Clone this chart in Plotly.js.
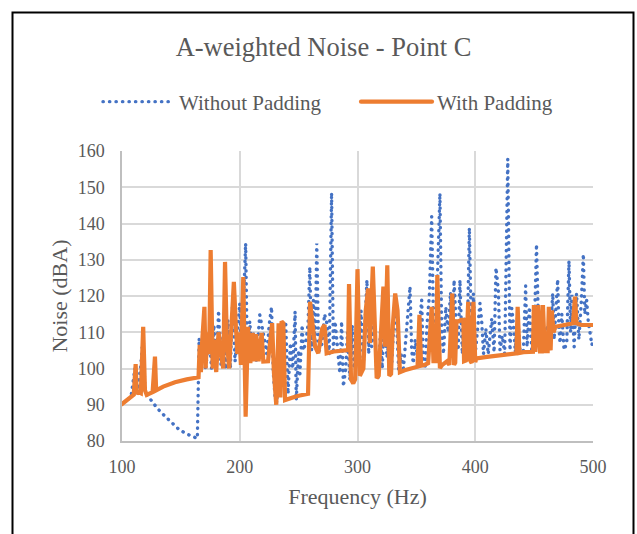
<!DOCTYPE html>
<html>
<head>
<meta charset="utf-8">
<script src="https://cdn.plot.ly/plotly-3.0.1.min.js"></script>
<style>
  html, body { margin: 0; padding: 0; background: #ffffff; }
  #chart { width: 637px; height: 534px; }
  .legendlines path.js-line { stroke-linecap: round; }
  .scatterlayer .trace path.js-line { stroke-linecap: round; }
</style>
</head>
<body>
<div id="chart"></div>
<script>
// ---- Data ----
const seriesNames = ["Without Padding", "With Padding"];

const freqWithout = [
  105, 108, 111, 113, 116, 118, 119.5, 124, 130, 136, 142, 149, 156, 162, 164,
  165.5, 167, 169, 171, 174, 176, 178, 180, 182, 184, 186, 188, 190, 192, 194,
  196, 198, 200, 201.5, 203, 205, 206.5, 208.5, 210, 212, 214, 217, 220, 223, 225,
  227, 228.5, 230, 231.5, 233, 235, 237, 239, 241, 243, 245, 247, 248, 250, 251,
  253, 254, 256, 258, 259.5, 261, 262.5, 264, 265.4, 267, 270, 272, 274, 276, 278,
  279.5, 281, 283.8, 285, 286.5, 288, 290, 291.5, 293.6, 295.5, 297, 299, 301, 303, 305,
  306.5, 308, 309.5, 310.6, 312, 314, 316, 317.7, 319.5, 321, 323, 325, 327, 329, 331,
  333, 335, 337, 339, 341.8, 344.6, 346, 347.4, 349, 351, 352.5, 354.5, 356, 357.5, 359,
  361, 363, 364.5, 366, 368, 370, 371.5, 373, 375, 377, 379, 380.5, 382, 384, 385.5,
  387, 389, 391, 393, 395, 397, 398.4, 400, 402, 404, 405.5, 407, 409, 411, 414,
  416, 417.6, 419.6, 421, 423, 425, 427.6, 429.5, 431, 432.4, 434, 436, 438, 440.8, 442.8,
  444, 446, 448, 450, 452, 453.6, 455, 457, 459, 461, 463, 465.8, 467, 468.5, 470,
  471, 472, 473.5, 475.4, 477.7, 479.6, 481, 482, 484, 486, 488, 490, 491.8, 493, 494.6,
  496, 498, 499, 500
];
const noiseWithout = [
  91.5, 93, 100, 93, 101, 109, 93.5, 91.5, 89, 87, 85, 83, 81.8, 81, 80.7,
  108.3, 101, 107, 99.5, 110, 100, 112, 99.8, 116, 101, 110, 99.8, 113.4, 100, 119,
  101.9, 110, 118, 103, 117, 134.5, 101, 113, 106, 110, 102, 114.8, 109.7, 104, 112,
  117, 98.7, 92.2, 90.5, 104, 111, 96, 113, 93, 107, 100, 115.7, 91.3, 105, 97.7,
  112, 105, 107, 112, 128, 105, 118.9, 106, 134.5, 104.5, 107, 115, 112.5, 104, 148.5,
  105, 113, 103.3, 98.7, 113, 95, 100, 110, 96.8, 112, 100, 108, 104, 116, 101,
  112, 124.4, 104, 114.3, 106, 115, 101, 97.3, 110, 100, 115, 103, 108, 101, 113,
  114.3, 99.5, 104, 100, 110.6, 122.6, 105, 101.4, 108, 103, 112, 118.9, 100, 100.5, 112,
  120, 141.9, 113, 105, 125, 148.3, 110.6, 104, 117, 110, 121, 104, 124.4, 110, 105,
  124.4, 104, 114, 104, 138.8, 105, 120.7, 104, 110, 118, 112.9, 104, 111, 104, 113.8,
  104.5, 127.8, 121.7, 105.1, 109, 104, 157.8, 105, 116.6, 112.5, 104.5, 115, 105, 104.6, 122.8,
  106, 117, 105, 108, 134.3, 113.4, 106, 116, 104.5, 112, 105, 120.7, 108, 118, 124.6,
  111.5, 107, 115, 105.1, 107, 129.7, 110, 120.3, 106, 120.7, 108, 118, 131.6, 115, 118.9,
  112.9, 108.8, 106.5, 107.5
];

const freqWith = [
  100, 104, 108, 110, 111.6, 112.5, 114, 116, 118, 119.5, 121, 126, 128, 129, 135,
  145, 155, 165, 166, 167, 168, 170, 171, 172.5, 174, 175.3, 177, 178.5, 180, 182,
  184, 186, 187.5, 189, 191, 193, 195, 196.5, 198, 199.5, 201, 203, 205, 207, 209,
  211, 212.5, 214, 216, 218.6, 220, 224, 226, 227.5, 229, 231, 233, 234.5, 235.5, 237,
  238.5, 240, 245, 250, 258, 259.7, 262, 264, 266.7, 270, 272, 273.8, 280, 287, 292,
  292.8, 294.5, 296.4, 298, 300, 302, 305, 307, 309, 310.5, 313, 315, 316.3, 318, 320,
  322, 323.5, 325.3, 327, 328.5, 330, 332, 334, 336, 340, 345, 351, 352.6, 354, 357,
  360, 363, 364.5, 366.5, 367.8, 369, 370, 372, 374, 376, 378, 380.5, 382, 383, 384,
  386, 388, 389.9, 390.5, 392, 394, 395.5, 397, 398.4, 400, 401, 410, 420, 430, 435,
  436, 437.5, 441, 449, 449.8, 451, 453.6, 455, 456.5, 457.5, 459, 461.5, 462.5, 464, 465,
  466.5, 468, 475, 482, 483, 484.7, 486, 490, 495, 500
];
const noiseWith = [
  90.2, 91.3, 92.5, 92.8, 101.2, 93, 93.5, 93.2, 111.5, 94, 92.7, 93.5, 103.3, 94, 95,
  96.2, 97, 97.6, 106.5, 99, 107, 117, 100, 110, 104, 132.7, 100, 108, 99, 110,
  104, 100, 129.4, 108, 100, 112, 123.9, 113, 104, 110, 101, 125.2, 86.7, 111.5, 101.5,
  109.8, 102, 109.5, 102, 109.8, 101.9, 102, 108.8, 112.5, 99, 90, 112.5, 92, 113, 112.5,
  91.3, 91.5, 92, 92.5, 93, 118.4, 112, 106, 104.2, 111, 112, 104.2, 104.7, 105, 105.1,
  123.3, 97, 95.9, 97, 127.4, 98, 100, 116, 122.1, 107, 128.1, 105, 97.3, 98, 110,
  122.6, 106, 128.5, 98, 98.5, 112, 120.7, 116, 99, 99.5, 100, 100.5, 114.8, 100.8, 101,
  101.5, 117, 102, 102, 125.8, 111, 100.1, 101, 101.5, 102, 101, 120.7, 101, 101.6, 113,
  113, 113.4, 113.4, 102, 102.2, 118.4, 102.3, 101.5, 118.4, 101.8, 102.8, 103.2, 103.7, 104, 104.2,
  117, 104.3, 104.5, 104.6, 117.5, 104.6, 117.5, 104.7, 104.7, 117.5, 104.8, 104.8, 117, 105, 116,
  110, 111.5, 112, 112.3, 112.5, 119.8, 112.5, 112, 112, 112
];

const xTickVals = [100, 200, 300, 400, 500];
const yTickVals = [80, 90, 100, 110, 120, 130, 140, 150, 160];

const chartTitle = "A-weighted Noise - Point C";
const xTitle = "Frequency (Hz)";
const yTitle = "Noise (dBA)";

// ---- Styling ----
const FONT = 'Liberation Serif, Times New Roman, serif';
const TXT = '#595959';

const traces = [
  {
    x: freqWithout, y: noiseWithout, name: seriesNames[0],
    type: 'scatter', mode: 'lines', legend: 'legend',
    line: { color: '#4472C4', width: 3.4, dash: '0.3px,6.2px' },
    hoverinfo: 'x+y'
  },
  {
    x: freqWith, y: noiseWith, name: seriesNames[1],
    type: 'scatter', mode: 'lines', legend: 'legend2',
    line: { color: '#ED7D31', width: 4.2 },
    hoverinfo: 'x+y'
  }
];

const legendCommon = {
  orientation: 'h',
  xref: 'container', yref: 'container',
  xanchor: 'left', yanchor: 'middle',
  y: 1 - 102 / 534,
  font: { family: FONT, size: 21, color: TXT },
  itemwidth: 71,
  bgcolor: 'rgba(0,0,0,0)'
};

const layout = {
  width: 637, height: 534,
  paper_bgcolor: '#ffffff', plot_bgcolor: '#ffffff',
  margin: { l: 122, r: 44, t: 151, b: 93, autoexpand: false },
  font: { family: FONT, color: TXT, size: 18 },
  showlegend: true,
  title: {
    text: chartTitle,
    font: { family: FONT, size: 26.5, color: TXT },
    xref: 'container', x: 0.508, xanchor: 'center',
    yref: 'container', y: 1 - 47 / 534, yanchor: 'middle'
  },
  legend: Object.assign({}, legendCommon, { x: 98 / 637 }),
  legend2: Object.assign({}, legendCommon, { x: 356 / 637 }),
  xaxis: {
    range: [100, 500], tickvals: xTickVals, ticktext: xTickVals.map(String),
    showgrid: true, gridcolor: '#D9D9D9', gridwidth: 1.5,
    showline: true, linecolor: '#BFBFBF', linewidth: 1.5,
    zeroline: false, ticks: '', ticklabelstandoff: 9,
    tickfont: { family: FONT, size: 18, color: TXT },
    title: { text: xTitle, font: { family: FONT, size: 22, color: TXT }, standoff: 12 },
    fixedrange: true
  },
  yaxis: {
    range: [80, 160], tickvals: yTickVals, ticktext: yTickVals.map(String),
    showgrid: true, gridcolor: '#D9D9D9', gridwidth: 1.5,
    showline: true, linecolor: '#BFBFBF', linewidth: 1.5,
    zeroline: false, ticks: '', ticklabelstandoff: 12,
    tickfont: { family: FONT, size: 18, color: TXT },
    title: { text: yTitle, font: { family: FONT, size: 22, color: TXT }, standoff: 4 },
    fixedrange: true
  },
  shapes: [
    {
      type: 'rect', xref: 'paper', yref: 'paper', layer: 'above',
      x0: (12.5 - 122) / 471, x1: (633.5 - 122) / 471,
      y0: (441 - 545) / 290, y1: (441 - 12.5) / 290,
      line: { color: '#000000', width: 2 }, fillcolor: 'rgba(0,0,0,0)'
    }
  ]
};

function fixLegend() {
  document.querySelectorAll('.legendlines path.js-line').forEach(p => {
    p.setAttribute('d', 'M5,0h71');
  });
}

Plotly.newPlot('chart', traces, layout, { displayModeBar: false, staticPlot: false })
  .then(gd => { fixLegend(); gd.on('plotly_afterplot', fixLegend); });
</script>
</body>
</html>
